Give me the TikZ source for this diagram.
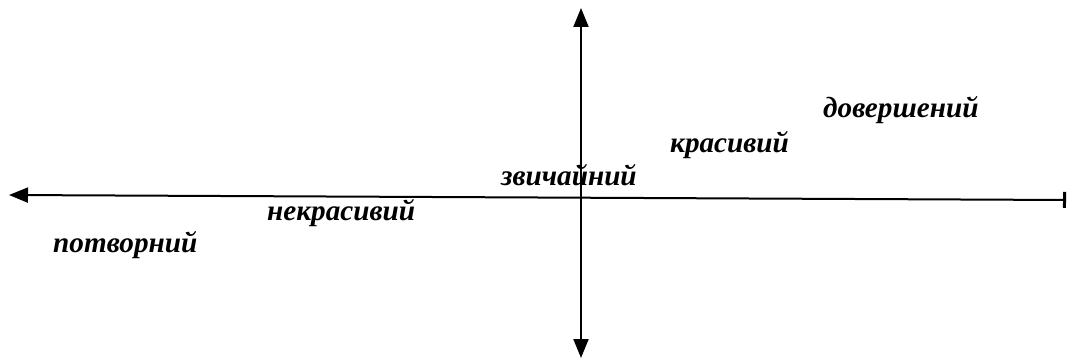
\documentclass[tikz,border=0pt]{standalone}
\usepackage{fontspec}
\setmainfont{Liberation Serif}
\usetikzlibrary{arrows.meta}
\tikzset{
  axis/.style={line width=2pt},
  tip/.style={},
  word/.style={font=\fontsize{29.2}{31}\selectfont\bfseries\itshape, inner sep=0pt, anchor=base west},
}
\begin{document}
\begin{tikzpicture}[x=1pt,y=-1pt]
\useasboundingbox (0,0) rectangle (1068,363);
\coordinate (L) at (9,195);
\coordinate (R) at (1066,200);
\coordinate (T) at (581,8);
\coordinate (B) at (581,358);
\draw[axis,{Triangle[length=19pt,width=15pt]}-{Bar[width=16pt,line width=3pt]}] (L) -- (R);
\draw[axis,{Triangle[length=19pt,width=15pt]}-{Triangle[length=19pt,width=15pt]}] (T) -- (B);
\node[word] (w1) at (823,118) {довершений};
\node[word] (w2) at (670,153) {красивий};
\node[word] (w3) at (501,186) {звичайний};
\node[word] (w4) at (267,221) {некрасивий};
\node[word] (w5) at (53,253) {потворний};
\end{tikzpicture}
\end{document}
